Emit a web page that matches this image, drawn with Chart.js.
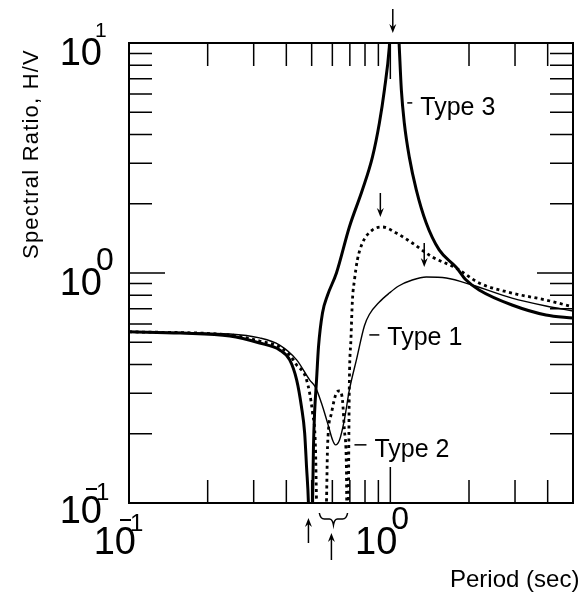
<!DOCTYPE html>
<html>
<head>
<meta charset="utf-8">
<script src="https://cdn.jsdelivr.net/npm/chart.js@4.4.1/dist/chart.umd.min.js"></script>
<style>
  html, body { margin: 0; padding: 0; background: #fff; }
  #wrap { width: 588px; height: 594px; }
</style>
</head>
<body>
<div id="wrap"><canvas id="hvChart" width="588" height="594"></canvas></div>
<script>
// H/V spectral ratio against period for the three site types
const type1Period = [0.1, 0.243, 0.316, 0.377, 0.438, 0.491, 0.517, 0.545, 0.575, 0.601, 0.617, 0.639, 0.667, 0.697, 0.742, 0.796, 0.831, 0.908, 0.991, 1.076, 1.213, 1.372, 1.636, 2.056, 2.922, 3.939, 5.0];
const type1Ratio  = [0.555, 0.543, 0.522, 0.486, 0.419, 0.343, 0.319, 0.272, 0.223, 0.188, 0.179, 0.188, 0.23, 0.31, 0.42, 0.59, 0.66, 0.748, 0.818, 0.878, 0.932, 0.961, 0.951, 0.887, 0.778, 0.719, 0.684];

const type2Period = [0.1, 0.243, 0.316, 0.377, 0.412, 0.438, 0.478, 0.504, 0.517, 0.522, 0.53, 0.5695, 0.575, 0.5955, 0.622, 0.639, 0.656, 0.667, 0.679, 0.684, 0.6912, 0.6943, 0.6972, 0.7065, 0.7161, 0.729, 0.748, 0.782, 0.854, 0.932, 1.054, 1.213, 1.4465, 1.786, 2.186, 2.922, 3.939, 5.0];
const type2Ratio  = [0.555, 0.538, 0.506, 0.477, 0.44, 0.398, 0.343, 0.246, 0.175, 0.1, 0.05, 0.1, 0.175, 0.246, 0.301, 0.307, 0.28, 0.208, 0.143, 0.06, 0.1, 0.208, 0.343, 0.511, 0.763, 0.932, 1.139, 1.35, 1.538, 1.585, 1.492, 1.35, 1.174, 1.051, 0.905, 0.818, 0.763, 0.712];

const type3Period = [0.1, 0.157, 0.243, 0.316, 0.377, 0.412, 0.438, 0.457, 0.47, 0.478, 0.486, 0.495, 0.504, 0.508, 0.513, 0.522, 0.531, 0.55, 0.575, 0.622, 0.697, 0.782, 0.854, 0.908, 0.949, 0.991, 1.04, 1.082, 1.102, 1.131, 1.182, 1.257, 1.372, 1.538, 1.786, 1.95, 2.186, 2.922, 3.939, 5.0];
const type3Ratio  = [0.555, 0.548, 0.532, 0.496, 0.463, 0.419, 0.343, 0.262, 0.202, 0.143, 0.1, 0.04, 0.1, 0.175, 0.246, 0.343, 0.477, 0.67, 0.8, 1.0, 1.585, 2.3, 3.19, 4.49, 6.25, 9.6, 25, 9.6, 6.25, 4.49, 3.19, 2.3, 1.65, 1.26, 1.06, 0.932, 0.844, 0.726, 0.657, 0.637];

// tick marks and labelled decades
const xMinorTicks = [0.2, 0.3, 0.4, 0.5, 0.6, 0.7, 0.8, 0.9, 2, 3, 4];
const xMajorTicks = [1];
const yMinorTicks = [0.2, 0.3, 0.4, 0.5, 0.6, 0.7, 0.8, 0.9, 2, 3, 4, 5, 6, 7, 8, 9];
const yMajorTicks = [1];
const xTickLabels = [0.1, 1];
const yTickLabels = [0.1, 1, 10];

// arrows under the axis: Type 3 trough, Type 2 trough cluster (brace)
const troughArrowPeriods = [0.486, 0.595];
const troughBrace = [0.535, 0.686];

const curveLabels = [
  { text: 'Type 3', period: 1.161, ratio: 5.49, dash: 5, lift: 12 },
  { text: 'Type 1', period: 0.831, ratio: 0.538, dash: 10, lift: 10 },
  { text: 'Type 2', period: 0.729, ratio: 0.179, dash: 12, lift: 12 }
];

const FONT = '"Liberation Sans", Arial, Helvetica, sans-serif';
const pairs = (xs, ys) => xs.map((v, i) => ({ x: v, y: ys[i] }));

function drawPower(ctx, right, base, exp) {
  ctx.textAlign = 'right';
  ctx.textBaseline = 'alphabetic';
  ctx.font = '38px ' + FONT;
  ctx.fillText('10', right, base);
  ctx.textAlign = 'left';
  if (exp === 0) {
    ctx.font = '32px ' + FONT;
    ctx.fillText('0', right - 6, base - 25);
  } else if (exp === 1) {
    ctx.font = '21px ' + FONT;
    ctx.fillText('1', right - 7, base - 28);
  } else {
    ctx.font = '24px ' + FONT;
    ctx.fillText('1', right - 6, base - 23);
    ctx.fillRect(right - 16, base - 35, 11, 2);
  }
}

function arrow(ctx, x, tail, tip) {
  const dir = tip > tail ? 1 : -1;
  ctx.beginPath();
  ctx.moveTo(x, tail);
  ctx.lineTo(x, tip - dir * 6);
  ctx.stroke();
  ctx.beginPath();
  ctx.moveTo(x, tip);
  ctx.lineTo(x - 3.5, tip - dir * 9);
  ctx.lineTo(x, tip - dir * 6);
  ctx.lineTo(x + 3.5, tip - dir * 9);
  ctx.closePath();
  ctx.fill();
}

const frame = {
  id: 'frame',
  afterDraw(chart) {
    const { ctx, chartArea: a, scales: { x, y } } = chart;
    ctx.save();
    ctx.strokeStyle = '#000';
    ctx.fillStyle = '#000';

    // inward ticks on all four sides
    ctx.lineWidth = 1.5;
    ctx.beginPath();
    const xTick = (v, len) => {
      const px = x.getPixelForValue(v);
      ctx.moveTo(px, a.bottom); ctx.lineTo(px, a.bottom - len);
      ctx.moveTo(px, a.top); ctx.lineTo(px, a.top + len);
    };
    const yTick = (v, len) => {
      const py = y.getPixelForValue(v);
      ctx.moveTo(a.left, py); ctx.lineTo(a.left + len, py);
      ctx.moveTo(a.right, py); ctx.lineTo(a.right - len, py);
    };
    xMinorTicks.forEach(v => xTick(v, 23));
    xMajorTicks.forEach(v => xTick(v, 36));
    yMinorTicks.forEach(v => yTick(v, 23));
    yMajorTicks.forEach(v => yTick(v, 36));
    ctx.stroke();

    ctx.lineWidth = 2;
    ctx.strokeRect(a.left, a.top, a.right - a.left, a.bottom - a.top);

    // decade labels
    yTickLabels.forEach(v => {
      const py = y.getPixelForValue(v);
      drawPower(ctx, a.left - 27, py + (v === 0.1 ? 20 : 22), Math.round(Math.log10(v)));
    });
    xTickLabels.forEach(v => {
      const px = x.getPixelForValue(v);
      drawPower(ctx, px + 7, a.bottom + 51, Math.round(Math.log10(v)));
    });

    // axis titles
    ctx.font = '24px ' + FONT;
    ctx.textAlign = 'left';
    ctx.fillText('Period (sec)', 450, 587);
    ctx.save();
    ctx.translate(38, 154);
    ctx.rotate(-Math.PI / 2);
    ctx.font = '22px ' + FONT;
    ctx.letterSpacing = '1.2px';
    ctx.textAlign = 'center';
    ctx.fillText('Spectral Ratio, H/V', 0, 0);
    ctx.restore();

    // curve labels with leader dash
    ctx.lineWidth = 1.5;
    ctx.font = '25px ' + FONT;
    ctx.textAlign = 'left';
    curveLabels.forEach(l => {
      const px = x.getPixelForValue(l.period);
      const py = y.getPixelForValue(l.ratio);
      ctx.beginPath();
      ctx.moveTo(px, py); ctx.lineTo(px + l.dash, py);
      ctx.stroke();
      ctx.fillText(l.text, px + l.dash + 8, py + l.lift);
    });

    // peak arrows, placed above each curve's maximum
    [[type1Period, type1Ratio], [type2Period, type2Ratio], [type3Period, type3Ratio]].forEach(([ps, rs]) => {
      const i = rs.indexOf(Math.max(...rs));
      const px = x.getPixelForValue(ps[i]);
      const tip = Math.max(y.getPixelForValue(Math.min(rs[i], 10)), a.top) - 10;
      arrow(ctx, px - 2, tip - 24, tip);
    });

    // trough arrows and brace below the axis
    ctx.lineWidth = 1.5;
    const a1 = x.getPixelForValue(troughArrowPeriods[0]);
    arrow(ctx, a1, a.bottom + 40, a.bottom + 15);
    const a2 = x.getPixelForValue(troughArrowPeriods[1]);
    arrow(ctx, a2, a.bottom + 57, a.bottom + 30);
    const b0 = x.getPixelForValue(troughBrace[0]);
    const b1 = x.getPixelForValue(troughBrace[1]);
    const bm = (b0 + b1) / 2;
    const top = a.bottom + 10;
    ctx.beginPath();
    ctx.moveTo(b0, top);
    ctx.quadraticCurveTo(b0 + 1, top + 6, b0 + 5, top + 6);
    ctx.lineTo(bm - 4, top + 6);
    ctx.quadraticCurveTo(bm - 1, top + 6, bm, top + 12);
    ctx.quadraticCurveTo(bm + 1, top + 6, bm + 4, top + 6);
    ctx.lineTo(b1 - 5, top + 6);
    ctx.quadraticCurveTo(b1 - 1, top + 6, b1, top);
    ctx.stroke();

    ctx.restore();
  }
};

new Chart(document.getElementById('hvChart'), {
  type: 'scatter',
  data: {
    datasets: [
      {
        label: 'Type 1',
        data: pairs(type1Period, type1Ratio),
        borderColor: '#000',
        borderWidth: 1.4,
        showLine: true,
        pointRadius: 0,
        cubicInterpolationMode: 'monotone'
      },
      {
        label: 'Type 2',
        data: pairs(type2Period, type2Ratio),
        borderColor: '#000',
        borderWidth: 2.8,
        borderDash: [3, 3.5],
        showLine: true,
        pointRadius: 0,
        cubicInterpolationMode: 'monotone'
      },
      {
        label: 'Type 3',
        data: pairs(type3Period, type3Ratio),
        borderColor: '#000',
        borderWidth: 3,
        showLine: true,
        pointRadius: 0,
        cubicInterpolationMode: 'monotone'
      }
    ]
  },
  options: {
    responsive: false,
    animation: false,
    devicePixelRatio: 1,
    layout: { padding: { left: 129, top: 43, right: 15, bottom: 91 } },
    scales: {
      x: { type: 'logarithmic', min: 0.1, max: 5, display: false },
      y: { type: 'logarithmic', min: 0.1, max: 10, display: false }
    },
    plugins: {
      legend: { display: false },
      tooltip: { enabled: false }
    }
  },
  plugins: [frame]
});
</script>
</body>
</html>
